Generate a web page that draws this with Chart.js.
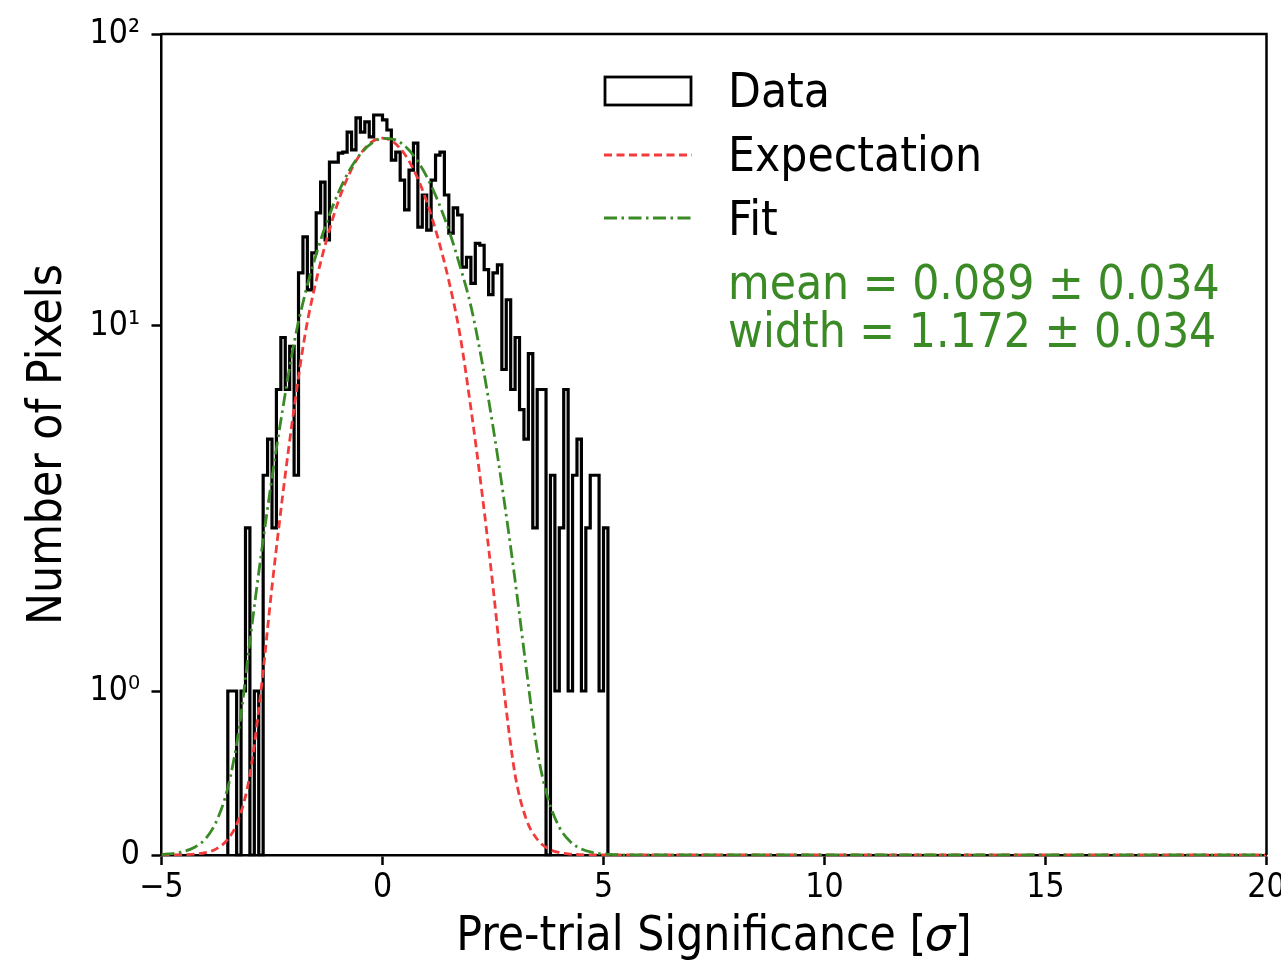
<!DOCTYPE html>
<html>
<head>
<meta charset="utf-8">
<script src="https://cdn.jsdelivr.net/npm/chart.js@4.4.1/dist/chart.umd.min.js"></script>
<style>
  html, body { margin: 0; padding: 0; background: #fff; }
  #wrap { width: 1281px; height: 962px; }
</style>
</head>
<body>
<div id="wrap"><canvas id="chart" width="1281" height="962"></canvas></div>
<script>
// histogram bin edges (sigma) and counts per bin
const binEdges = [
  -3.5, -3.4, -3.3, -3.2, -3.1, -3.0, -2.9, -2.8, -2.7, -2.6,
  -2.5, -2.4, -2.3, -2.2, -2.1, -2.0, -1.9, -1.8, -1.7, -1.6,
  -1.5, -1.4, -1.3, -1.2, -1.1, -1.0, -0.9, -0.8, -0.7, -0.6,
  -0.5, -0.4, -0.3, -0.2, -0.1, 0.0, 0.1, 0.2, 0.3, 0.4,
  0.5, 0.6, 0.7, 0.8, 0.9, 1.0, 1.1, 1.2, 1.3, 1.4,
  1.5, 1.6, 1.7, 1.8, 1.9, 2.0, 2.1, 2.2, 2.3, 2.4,
  2.5, 2.6, 2.7, 2.8, 2.9, 3.0, 3.1, 3.2, 3.3, 3.4,
  3.5, 3.6, 3.7, 3.8, 3.9, 4.0, 4.1, 4.2, 4.3, 4.4,
  4.5, 4.6, 4.7, 4.8, 4.9, 5.0, 5.1
];
const binCounts = [
  1, 1, 0, 1, 2.8, 0, 1, 0, 3.9, 4.9,
  2.8, 6.7, 9.3, 6.7, 8.8, 3.9, 15.2, 20.2, 13.3, 17.8,
  24.4, 31.1, 19.7, 36.4, 36.4, 39.1, 39.4, 46.1, 40.1, 51.6,
  46.1, 50.0, 44.4, 52.8, 52.8, 50.8, 46.9, 37.0, 39.4, 31.6,
  25.0, 34.2, 42.3, 21.8, 28.1, 21.3, 31.6, 38.5, 39.4, 28.1,
  20.8, 25.4, 24.0, 15.9, 17.2, 14.0, 19.2, 18.9, 15.6, 12.8,
  15.2, 16.2, 7.6, 12.3, 6.7, 9.3, 5.9, 4.9, 8.4, 2.8,
  6.7, 6.7, 0, 3.9, 1, 2.8, 6.7, 1, 3.9, 4.9,
  1, 2.8, 3.9, 3.9, 1, 2.8
];

// curves sampled along x
const curveX = [
  -5, -4.75, -4.5, -4.25, -4, -3.75, -3.5, -3.25, -3, -2.75, -2.5,
  -2.25, -2, -1.75, -1.5, -1.25, -1, -0.75, -0.5, -0.25, 0,
  0.25, 0.5, 0.75, 1, 1.25, 1.5, 1.75, 2, 2.25, 2.5,
  2.75, 3, 3.25, 3.5, 3.75, 4, 4.25, 4.5, 4.75, 5,
  5.25, 5.5, 20
];
const expectation = [
  0.0002, 0.0006, 0.0018, 0.0053, 0.015, 0.039, 0.096, 0.22, 0.49, 1.0, 1.93,
  3.5, 5.95, 9.5, 14.3, 20.1, 26.7, 33.2, 38.8, 42.6, 44,
  42.6, 38.8, 33.2, 26.7, 20.1, 14.3, 9.5, 5.95, 3.5, 1.93,
  1.0, 0.49, 0.22, 0.096, 0.039, 0.015, 0.0053, 0.0018, 0.0006, 0.0002,
  0, 0, 0
];
const fit = [
  0.0035, 0.0087, 0.021, 0.047, 0.10, 0.21, 0.41, 0.76, 1.37, 2.34, 3.84,
  6.0, 9.0, 12.9, 17.6, 22.9, 28.6, 34.1, 38.8, 42.2, 43.9,
  43.6, 41.4, 37.5, 32.5, 26.9, 21.3, 16.1, 11.7, 8.0, 5.3,
  3.34, 2.01, 1.16, 0.64, 0.34, 0.17, 0.081, 0.037, 0.016, 0.0068,
  0.0027, 0.001, 0
];

const yTickValues = [0, 1, 10, 100];
const yTickLabels = ['0', '10\u2070', '10\u00b9', '10\u00b2'];
const fitText = ['mean = 0.089 \u00b1 0.034', 'width = 1.172 \u00b1 0.034'];

const FONT = "'DejaVu Sans Condensed', 'DejaVu Sans', sans-serif";
const RED = '#f23c3c';
const GREEN = '#3a8a26';

// linear below 1, logarithmic per decade above, decades sized as in the figure
class PiecewiseLogScale extends Chart.Scale {
  static id = 'piecewiseLog';
  static defaults = {};
  determineDataLimits() {
    const b = this.options.breaks;
    this.min = b[0];
    this.max = b[b.length - 1];
  }
  buildTicks() {
    return this.options.tickValues.map(v => ({ value: v }));
  }
  getLabelForValue(v) { return String(v); }
  toDecimal(v) {
    const b = this.options.breaks, f = this.options.breakFractions;
    if (v <= b[0]) return f[0];
    for (let i = 1; i < b.length; i++) {
      if (v <= b[i] || i === b.length - 1) {
        const t = b[i - 1] <= 0
          ? (v - b[i - 1]) / (b[i] - b[i - 1])
          : Math.log(v / b[i - 1]) / Math.log(b[i] / b[i - 1]);
        return f[i - 1] + t * (f[i] - f[i - 1]);
      }
    }
  }
  getPixelForValue(v) {
    return this.getPixelForDecimal(this.toDecimal(v));
  }
  getValueForPixel(p) {
    const d = this.getDecimalForPixel(p);
    const b = this.options.breaks, f = this.options.breakFractions;
    for (let i = 1; i < b.length; i++) {
      if (d <= f[i] || i === b.length - 1) {
        const t = (d - f[i - 1]) / (f[i] - f[i - 1]);
        return b[i - 1] <= 0
          ? b[i - 1] + t * (b[i] - b[i - 1])
          : b[i - 1] * Math.pow(b[i] / b[i - 1], t);
      }
    }
  }
}
Chart.register(PiecewiseLogScale);

const histPoints = [{ x: binEdges[0], y: 0 }];
binCounts.forEach((c, i) => histPoints.push({ x: binEdges[i], y: c }));
histPoints.push({ x: binEdges[binEdges.length - 1], y: 0 });

const legendAndFrame = {
  id: 'legendAndFrame',
  afterDraw(chart) {
    const { ctx, chartArea: a } = chart;
    const ds = chart.data.datasets;
    ctx.save();
    ctx.strokeStyle = '#000';
    ctx.lineWidth = 2.5;
    ctx.beginPath();
    ctx.moveTo(a.left, a.top);
    ctx.lineTo(a.right, a.top);
    ctx.lineTo(a.right, a.bottom);
    ctx.stroke();

    // legend handles
    ctx.fillStyle = '#fff';
    ctx.fillRect(605, 77, 86, 28);
    ctx.lineWidth = 2.8;
    ctx.strokeRect(605, 77, 86, 28);
    [[ds[1], 155], [ds[2], 218]].forEach(([d, y]) => {
      ctx.strokeStyle = d.borderColor;
      ctx.lineWidth = d.borderWidth;
      ctx.setLineDash(d.borderDash);
      ctx.beginPath();
      ctx.moveTo(604, y);
      ctx.lineTo(692, y);
      ctx.stroke();
    });
    ctx.setLineDash([]);

    ctx.font = '47.5px ' + FONT;
    ctx.textBaseline = 'alphabetic';
    ctx.textAlign = 'left';
    ctx.fillStyle = '#000';
    ctx.fillText(ds[0].label, 728, 107);
    ctx.fillText(ds[1].label, 728, 171);
    ctx.fillText(ds[2].label, 728, 235);
    ctx.fillStyle = GREEN;
    ctx.fillText(fitText[0], 728, 299);
    ctx.fillText(fitText[1], 728, 347);
    ctx.restore();
  }
};

new Chart(document.getElementById('chart'), {
  type: 'line',
  data: {
    datasets: [{
      label: 'Data',
      data: histPoints,
      borderColor: '#000',
      borderWidth: 3.2,
      stepped: true,
      pointRadius: 0,
      fill: false,
      order: 3
    }, {
      label: 'Expectation',
      data: curveX.map((x, i) => ({ x: x, y: expectation[i] })),
      borderColor: RED,
      borderWidth: 2.8,
      borderDash: [8, 4.5],
      cubicInterpolationMode: 'monotone',
      pointRadius: 0,
      fill: false,
      order: 2
    }, {
      label: 'Fit',
      data: curveX.map((x, i) => ({ x: x, y: fit[i] })),
      borderColor: GREEN,
      borderWidth: 2.8,
      borderDash: [13, 4.5, 2.5, 4.5],
      cubicInterpolationMode: 'monotone',
      pointRadius: 0,
      fill: false,
      order: 1
    }]
  },
  options: {
    responsive: false,
    animation: false,
    events: [],
    layout: { autoPadding: false, padding: { left: 0, right: 14.5, top: 34, bottom: 0 } },
    plugins: { legend: { display: false }, tooltip: { enabled: false } },
    scales: {
      x: {
        type: 'linear',
        min: -5,
        max: 20,
        border: { display: true, color: '#000', width: 2.5 },
        grid: { drawOnChartArea: false, drawTicks: true, tickLength: 10, tickColor: '#000', tickWidth: 2.5 },
        ticks: {
          stepSize: 5,
          autoSkip: false,
          maxRotation: 0,
          padding: 3,
          color: '#000',
          font: { family: FONT, size: 33.5 },
          callback: v => (v < 0 ? '\u2212' + Math.abs(v) : String(v))
        },
        title: {
          display: true,
          text: 'Pre-trial Significance [\ud835\udf0e]',
          color: '#000',
          font: { family: FONT, size: 47.5, lineHeight: 1 },
          padding: { top: 0, bottom: 1 }
        },
        afterFit(scale) {
          scale.height = 107;
          scale.paddingLeft = 0;
          scale.paddingRight = 0;
        }
      },
      y: {
        type: 'piecewiseLog',
        position: 'left',
        breaks: [0, 1, 10, 100],
        breakFractions: [0, 164 / 821, 529 / 821, 1],
        tickValues: yTickValues,
        border: { display: true, color: '#000', width: 2.5 },
        grid: { drawOnChartArea: false, drawTicks: true, tickLength: 10, tickColor: '#000', tickWidth: 2.5 },
        ticks: {
          autoSkip: false,
          padding: 11.5,
          color: '#000',
          font: { family: FONT, size: 33.5 },
          callback: (v, i) => yTickLabels[i]
        },
        title: {
          display: true,
          text: 'Number of Pixels',
          color: '#000',
          font: { family: FONT, size: 47.5, lineHeight: 1 },
          padding: { top: 24.5, bottom: 0 }
        },
        afterFit(scale) {
          scale.width = 161.5;
          scale.paddingTop = 0;
          scale.paddingBottom = 0;
        }
      }
    }
  },
  plugins: [legendAndFrame]
});
</script>
</body>
</html>
